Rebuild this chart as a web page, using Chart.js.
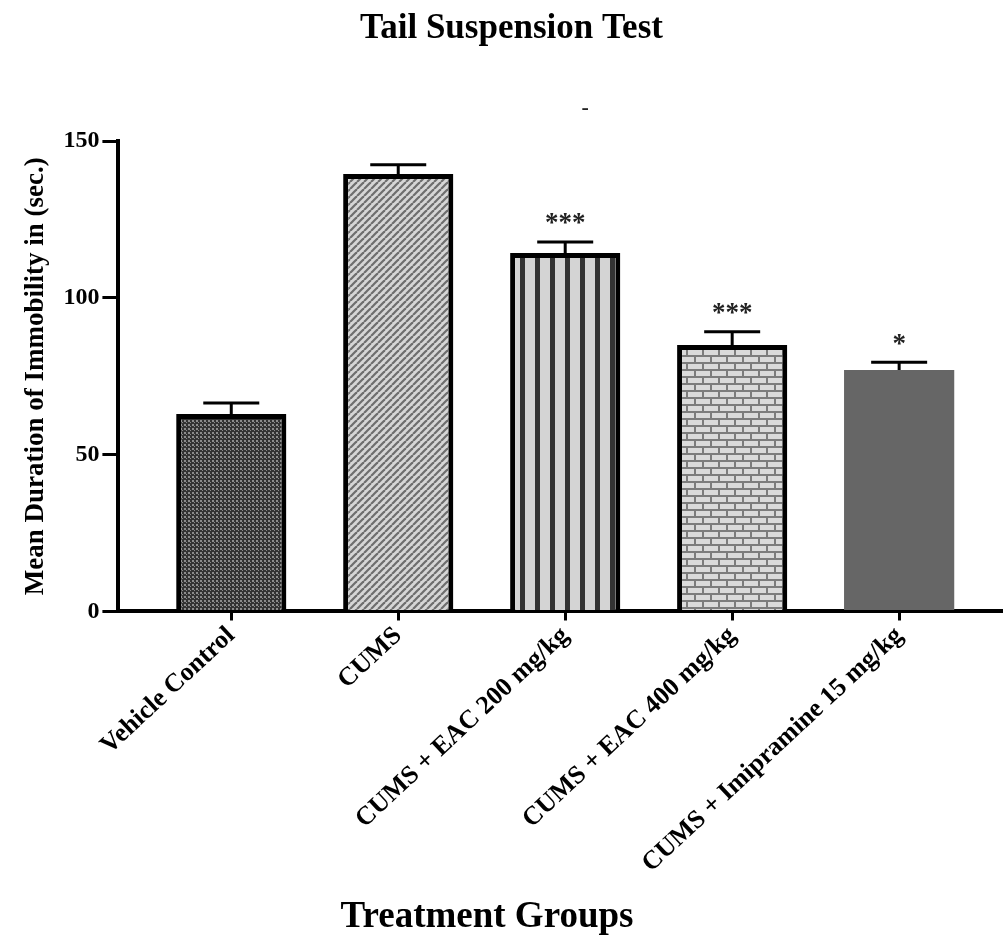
<!DOCTYPE html>
<html>
<head>
<meta charset="utf-8">
<script src="https://cdn.jsdelivr.net/npm/chart.js@4.4.0/dist/chart.umd.min.js"></script>
<style>
  html, body { margin: 0; padding: 0; background: #fff; }
  #wrap { width: 1003px; height: 941px; }
</style>
</head>
<body>
<div id="wrap"><canvas id="tst"></canvas></div>
<script>
// chart values
var groups = ["Vehicle Control", "CUMS", "CUMS + EAC 200 mg/kg", "CUMS + EAC 400 mg/kg", "CUMS + Imipramine 15 mg/kg"];
var meanImmobility = [63, 139.5, 114.3, 85, 77];
var semImmobility = [3.5, 2.9, 3.5, 4.2, 2.5];
var significance = ["", "", "***", "***", "*"];
var yTicks = [0, 50, 100, 150];

// Build the fill patterns
function makePattern(w, h, draw) {
    var c = document.createElement("canvas");
    c.width = w;
    c.height = h;
    draw(c.getContext("2d"), w, h);
    return c.getContext("2d").createPattern(c, "repeat");
}

var checkerFill = makePattern(4, 4, function (g) {
    g.fillStyle = "#333";
    g.fillRect(0, 0, 4, 4);
    g.fillStyle = "#8c8c8c";
    g.fillRect(0, 0, 2, 2);
    g.fillRect(2, 2, 1, 1);
});

var diagonalFill = makePattern(7, 7, function (g, w, h) {
    g.fillStyle = "#d6d6d6";
    g.fillRect(0, 0, w, h);
    g.strokeStyle = "#6e6e6e";
    g.lineWidth = 2.2;
    for (var k = -1; k <= 1; k++) {
        g.beginPath();
        g.moveTo(k * w, h);
        g.lineTo(k * w + w, 0);
        g.stroke();
    }
});

var verticalFill = makePattern(15, 4, function (g) {
    g.fillStyle = "#d4d4d4";
    g.fillRect(0, 0, 15, 4);
    g.fillStyle = "#333";
    g.fillRect(10, 0, 5, 4);
});

var brickFill = makePattern(16, 14, function (g) {
    g.fillStyle = "#7c7c7c";
    g.fillRect(0, 0, 16, 14);
    g.fillStyle = "#dadada";
    g.fillRect(0, 0, 14, 5);
    g.fillRect(0, 7, 6, 5);
    g.fillRect(8, 7, 8, 5);
});

var barFills = [checkerFill, diagonalFill, verticalFill, brickFill, "#666666"];
var barBorders = [5, 5, 5, 5, 0];

var serif = "'Liberation Serif', 'Times New Roman', serif";

// Error bars, stars, the stray dash and the x title
var errorBarPlugin = {
    id: "errorBars",
    afterDatasetsDraw: function (chart) {
        var ctx = chart.ctx;
        var xs = chart.scales.x;
        var ys = chart.scales.y;
        ctx.save();
        ctx.strokeStyle = "#000";
        ctx.lineWidth = 3;
        for (var i = 0; i < meanImmobility.length; i++) {
            var x = xs.getPixelForValue(i);
            var yTop = ys.getPixelForValue(meanImmobility[i]);
            var yErr = ys.getPixelForValue(meanImmobility[i] + semImmobility[i]);
            ctx.beginPath();
            ctx.moveTo(x, yTop);
            ctx.lineTo(x, yErr);
            ctx.moveTo(x - 28, yErr);
            ctx.lineTo(x + 28, yErr);
            ctx.stroke();

            if (significance[i]) {
                ctx.fillStyle = "#222";
                ctx.font = "bold 27px " + serif;
                ctx.textAlign = "center";
                ctx.textBaseline = "bottom";
                ctx.fillText(significance[i], x, yErr - 4);
            }
        }
        ctx.fillStyle = "#222";
        ctx.font = "bold 22px " + serif;
        ctx.textAlign = "center";
        ctx.textBaseline = "middle";
        ctx.fillText("-", xs.getPixelForValue(2.12), chart.chartArea.top - 33);

        ctx.fillStyle = "#000";
        ctx.font = "bold 37px " + serif;
        ctx.textAlign = "center";
        ctx.textBaseline = "middle";
        ctx.fillText("Treatment Groups", 487, chart.height - 24);
        ctx.restore();
    }
};

var points = meanImmobility.map(function (v, i) {
    return { x: i, y: v };
});

new Chart(document.getElementById("tst"), {
    type: "bar",
    data: {
        datasets: [{
            label: "Immobility",
            data: points,
            backgroundColor: barFills,
            borderColor: "#000",
            borderWidth: barBorders,
            borderSkipped: "bottom",
            barPercentage: 0.66,
            categoryPercentage: 1
        }]
    },
    options: {
        responsive: true,
        maintainAspectRatio: false,
        animation: false,
        layout: { padding: { left: 20, right: 0, top: 0, bottom: 62 } },
        plugins: {
            legend: { display: false },
            tooltip: { enabled: false },
            title: {
                display: true,
                text: "Tail Suspension Test",
                color: "#000",
                font: { family: serif, size: 35, weight: "bold" },
                padding: { top: 8, bottom: 91 }
            }
        },
        scales: {
            x: {
                type: "linear",
                offset: false,
                min: -0.676,
                max: 4.622,
                afterBuildTicks: function (scale) {
                    scale.ticks = groups.map(function (g, i) { return { value: i }; });
                },
                ticks: {
                    color: "#000",
                    font: { family: serif, size: 26, weight: "bold" },
                    minRotation: 43,
                    maxRotation: 43,
                    autoSkip: false,
                    padding: 0,
                    callback: function (value) { return groups[value]; }
                },
                grid: {
                    display: true,
                    offset: false,
                    drawOnChartArea: false,
                    drawTicks: true,
                    tickLength: 9,
                    lineWidth: 3,
                    color: "#000"
                },
                border: { display: true, color: "#000", width: 4 }
            },
            y: {
                min: 0,
                max: 150,
                afterBuildTicks: function (scale) {
                    scale.ticks = yTicks.map(function (v) { return { value: v }; });
                },
                ticks: {
                    color: "#000",
                    font: { family: serif, size: 24, weight: "bold" },
                    padding: 3
                },
                grid: {
                    display: true,
                    drawOnChartArea: false,
                    drawTicks: true,
                    tickLength: 16,
                    lineWidth: 3,
                    color: "#000"
                },
                border: { display: true, color: "#000", width: 4 },
                title: {
                    display: true,
                    text: "Mean Duration of Immobility in (sec.)",
                    color: "#000",
                    font: { family: serif, size: 27, weight: "bold" },
                    padding: { top: 0, bottom: 8 }
                }
            }
        }
    },
    plugins: [errorBarPlugin]
});
</script>
</body>
</html>
